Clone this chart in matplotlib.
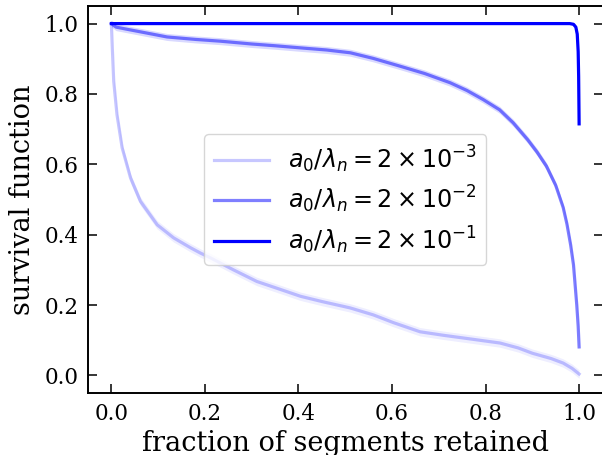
import numpy as np
import matplotlib
matplotlib.use("Agg")
import matplotlib.pyplot as plt

# Data
x_low = [0.0, 0.002, 0.005, 0.012, 0.023, 0.041, 0.062, 0.098, 0.133, 0.169, 0.19, 0.212,
         0.261, 0.311, 0.36, 0.404, 0.45, 0.51, 0.56, 0.603, 0.66, 0.71, 0.76, 0.831,
         0.87, 0.90, 0.94, 0.966, 0.985, 1.0]
y_low = [1.0, 0.93, 0.836, 0.741, 0.647, 0.561, 0.495, 0.428, 0.391, 0.363, 0.348, 0.334,
         0.300, 0.267, 0.245, 0.225, 0.210, 0.192, 0.172, 0.150, 0.124, 0.114, 0.105, 0.092,
         0.078, 0.063, 0.048, 0.035, 0.02, 0.004]

x_mid = [0.0, 0.01, 0.033, 0.08, 0.119, 0.18, 0.233, 0.30, 0.35, 0.404, 0.46, 0.511,
         0.56, 0.617, 0.67, 0.724, 0.76, 0.795, 0.83, 0.859, 0.89, 0.91, 0.93, 0.95,
         0.966, 0.974, 0.982, 0.988, 0.995, 0.998, 1.0]
y_mid = [1.0, 0.99, 0.984, 0.972, 0.962, 0.955, 0.950, 0.942, 0.937, 0.931, 0.925, 0.917,
         0.901, 0.879, 0.858, 0.832, 0.81, 0.784, 0.755, 0.718, 0.67, 0.635, 0.595, 0.54,
         0.477, 0.43, 0.37, 0.314, 0.20, 0.14, 0.081]

x_high = [0.0, 0.5, 0.98, 0.988, 0.993, 0.996, 0.998, 0.999, 1.0]
y_high = [1.0, 1.0, 1.0, 0.998, 0.99, 0.97, 0.92, 0.85, 0.715]

labels = [r"$a_0/\lambda_n = 2\times10^{-3}$",
          r"$a_0/\lambda_n = 2\times10^{-2}$",
          r"$a_0/\lambda_n = 2\times10^{-1}$"]
alphas = [0.22, 0.5, 1.0]
band = [0.012, 0.010, 0.002]

plt.rcParams['font.family'] = ['DejaVu Serif']
plt.rcParams['mathtext.fontset'] = 'dejavusans'

fig = plt.figure(figsize=(6.02, 4.55), dpi=100)
ax = fig.add_axes([88/602, 62/455, 514.5/602, 387/455])

series = [(x_low, y_low), (x_mid, y_mid), (x_high, y_high)]
for (xs, ys), lab, a, b in zip(series, labels, alphas, band):
    xs = np.array(xs); ys = np.array(ys)
    ax.fill_between(xs, ys - b, ys + b, color='blue', alpha=a * 0.3, lw=0)
    ax.plot(xs, ys, color='blue', alpha=a, lw=2.3, label=lab)

ax.set_xlim(-0.05, 1.05)
ax.set_ylim(-0.05, 1.05)
ax.set_xticks([0.0, 0.2, 0.4, 0.6, 0.8, 1.0])
ax.set_yticks([0.0, 0.2, 0.4, 0.6, 0.8, 1.0])
ax.tick_params(direction='in', top=True, right=True, length=6.5, width=1.1,
               labelsize=15.5, pad=7)
for s in ax.spines.values():
    s.set_linewidth(1.4)

ax.set_xlabel("fraction of segments retained", fontsize=19.5, labelpad=4)
ax.set_ylabel("survival function", fontsize=19.5, labelpad=6)

ax.legend(loc='center', bbox_to_anchor=(0.5, 0.5), fontsize=17.2,
          handlelength=2.3, labelspacing=0.38, borderpad=0.4)

fig.savefig("out.png", dpi=100)
